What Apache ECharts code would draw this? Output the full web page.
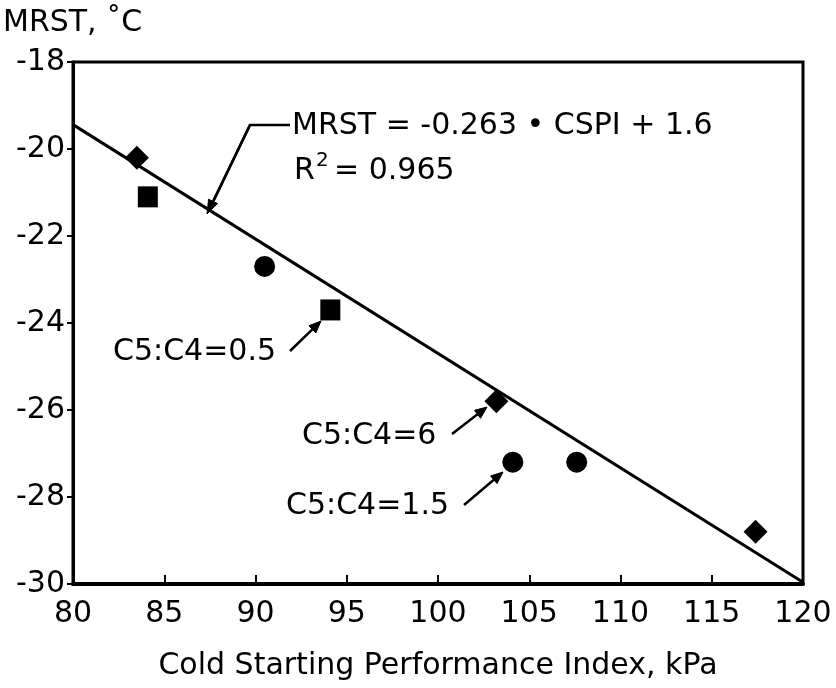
<!DOCTYPE html>
<html>
<head>
<meta charset="utf-8">
<script src="https://cdn.jsdelivr.net/npm/echarts@6/dist/echarts.min.js"></script>
<style>
  html, body { margin: 0; padding: 0; background: #ffffff; }
  #chart { width: 836px; height: 688px; }
</style>
</head>
<body>
<div id="chart"></div>
<script>
// Axis ranges and ticks
const xMin = 80, xMax = 120, xStep = 5;
const yMin = -30, yMax = -18, yStep = 2;

// Measured points, grouped by marker shape
const diamondPts = [[83.5, -20.2], [103.2, -25.8], [117.4, -28.8]];
const squarePts  = [[84.1, -21.1], [94.1, -23.7]];
const circlePts  = [[90.5, -22.7], [104.1, -27.2], [107.6, -27.2]];

// Linear fit stated on the chart: MRST = -0.263 * CSPI + 1.6
const fitSlope = -0.263;
const fitIntercept = 1.6;
const fitX = [80, 120];

// Text
const xTitle = 'Cold Starting Performance Index, kPa';
const yTitle = 'MRST, \u02DAC';
const eqText = 'MRST = -0.263 \u2022 CSPI + 1.6';
const r2Value = '= 0.965';
const ratioLabels = ['C5:C4=0.5', 'C5:C4=6', 'C5:C4=1.5'];

const FONT = '"DejaVu Sans", Verdana, sans-serif';
const INK = '#000000';
const FS = 30;

const fitLine = fitX.map(x => [x, fitSlope * x + fitIntercept]);

// Leader segment ending in a small filled arrowhead at (x2, y2)
function arrow(x1, y1, x2, y2, len, half) {
  const dx = x2 - x1, dy = y2 - y1;
  const d = Math.hypot(dx, dy);
  const ux = dx / d, uy = dy / d;
  const bx = x2 - ux * len, by = y2 - uy * len;
  return [
    { type: 'polyline', shape: { points: [[x1, y1], [bx, by]] },
      style: { stroke: INK, lineWidth: 2.5, fill: null } },
    { type: 'polygon', shape: { points: [[x2, y2], [bx - uy * half, by + ux * half], [bx + uy * half, by - ux * half]] },
      style: { fill: INK, stroke: INK, lineWidth: 1 } }
  ];
}

const txt = (text, left, top, size) => ({
  type: 'text', left: left, top: top,
  style: { text: text, fill: INK, font: `${size}px ${FONT}` }
});

const graphics = [
  // Fit equation and its leader
  txt(eqText, 292, 111, FS),
  txt('R', 294, 156, FS),
  txt('2', 316, 151, 20),
  txt(r2Value, 334, 156, FS),
  { type: 'polyline', shape: { points: [[290, 125], [250, 125], [214, 200]] },
    style: { stroke: INK, lineWidth: 2.5, fill: null } },
  ...arrow(250, 125, 207, 214, 14, 5),
  // Ratio labels with arrows to their points
  txt(ratioLabels[0], 113, 337, FS),
  ...arrow(290, 351, 321, 321, 12, 5),
  txt(ratioLabels[1], 302, 421, FS),
  ...arrow(452, 434, 487, 407, 12, 5),
  txt(ratioLabels[2], 286, 491, FS),
  ...arrow(464, 505, 503, 472, 12, 5)
];

const markerSeries = (name, data, symbol, size) => ({
  name: name, type: 'scatter', data: data, symbol: symbol, symbolSize: size,
  itemStyle: { color: INK, opacity: 1 }, z: 5
});

const chart = echarts.init(document.getElementById('chart'), null, { renderer: 'canvas' });
chart.setOption({
  animation: false,
  backgroundColor: '#ffffff',
  textStyle: { fontFamily: FONT, color: INK },
  grid: {
    left: 73, right: 33, top: 62, bottom: 104,
    show: true, borderColor: INK, borderWidth: 3, backgroundColor: 'transparent'
  },
  xAxis: {
    type: 'value', min: xMin, max: xMax, interval: xStep,
    name: xTitle, nameLocation: 'middle', nameGap: 67,
    nameTextStyle: { fontSize: FS, color: INK, fontFamily: FONT },
    axisLine: { lineStyle: { color: INK, width: 4 } },
    axisTick: { inside: true, length: 9, lineStyle: { color: INK, width: 2 } },
    axisLabel: { fontSize: FS, color: INK, margin: 15, fontFamily: FONT },
    splitLine: { show: false }
  },
  yAxis: {
    type: 'value', min: yMin, max: yMax, interval: yStep,
    name: yTitle, nameLocation: 'end', nameGap: 24,
    nameTextStyle: { fontSize: FS, color: INK, fontFamily: FONT, align: 'left', padding: [0, 0, 0, -70] },
    axisLine: { lineStyle: { color: INK, width: 3 } },
    axisTick: { inside: false, length: 6, lineStyle: { color: INK, width: 2 } },
    axisLabel: { fontSize: FS, color: INK, margin: 8, fontFamily: FONT },
    splitLine: { show: false }
  },
  series: [
    {
      name: 'fit', type: 'line', data: fitLine, symbol: 'none',
      lineStyle: { color: INK, width: 3 }, z: 3
    },
    markerSeries('diamond', diamondPts, 'diamond', [24, 24]),
    markerSeries('square', squarePts, 'rect', [20, 21]),
    markerSeries('circle', circlePts, 'circle', 21)
  ],
  graphic: graphics
});
</script>
</body>
</html>
